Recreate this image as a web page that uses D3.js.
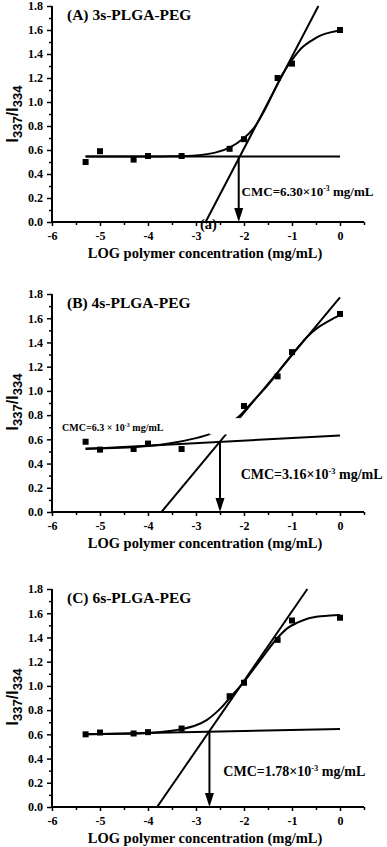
<!DOCTYPE html>
<html>
<head>
<meta charset="utf-8" />
<title>Pyrene I337/I334 vs log concentration</title>
<script src="https://d3js.org/d3.v7.min.js"></script>
<style>
    body { margin: 0; background: #fff; }
    svg text { font-family: 'Liberation Serif', 'Times New Roman', serif; font-weight: bold; fill: #000; }
</style>
</head>
<body>
<div id="chart"></div>
<script>
// log10 of polymer concentration (mg/mL)
var logConc = [-5.3, -5, -4.3, -4, -3.3, -2.3, -2, -1.3, -1, 0];

// measured I337/I334 ratios
var ratioA = [0.50, 0.59, 0.52, 0.55, 0.55, 0.61, 0.69, 1.20, 1.32, 1.60];
var ratioB = [0.58, 0.515, 0.52, 0.565, 0.52, null, 0.875, 1.12, 1.32, 1.635];
var ratioC = [0.60, 0.615, 0.607, 0.618, 0.648, 0.915, 1.026, 1.38, 1.54, 1.563];

// sigmoidal fit curves
var fitXA = [-5.3, -4.5, -3.5, -3.0, -2.6, -2.3, -2.0, -1.8, -1.6, -1.4, -1.2, -1.0, -0.8, -0.6, -0.4, -0.2, 0];
var fitYA = [0.545, 0.545, 0.548, 0.555, 0.578, 0.62, 0.70, 0.78, 0.91, 1.07, 1.23, 1.35, 1.45, 1.51, 1.555, 1.58, 1.595];
var fitXB = [-5.3, -4.6, -4.0, -3.5, -3.0, -2.7, -2.4, -2.1, -1.8, -1.5, -1.2, -1.0, -0.7, -0.47, -0.2, 0];
var fitYB = [0.524, 0.53, 0.545, 0.57, 0.61, 0.645, 0.70, 0.79, 0.92, 1.05, 1.20, 1.30, 1.44, 1.52, 1.585, 1.625];
var fitXC = [-5.3, -4.5, -4.0, -3.5, -3.3, -3.0, -2.77, -2.5, -2.3, -2.0, -1.66, -1.34, -1.1, -0.9, -0.68, -0.4, -0.2, 0];
var fitYC = [0.60, 0.605, 0.612, 0.63, 0.643, 0.675, 0.72, 0.81, 0.90, 1.034, 1.213, 1.379, 1.475, 1.52, 1.555, 1.575, 1.582, 1.585];

// tangent lines as [x0, y0, x1, y1]
var steepA = [-2.80, 0, -0.45, 1.80];
var flatA = [-5.3, 0.545, 0, 0.545];
var steepB = [-3.72, 0, 0, 1.773];
var flatB = [-5.3, 0.52, 0, 0.632];
var steepC = [-3.81, 0, -0.68, 1.80];
var flatC = [-5.3, 0.60, 0, 0.645];

// CMC (crossing point of the two lines)
var cmcX = [-2.11, -2.50, -2.72];
var cmcY = [0.545, 0.579, 0.62];
var cmcValue = ["6.30", "3.16", "1.78"];

var titles = ["(A) 3s-PLGA-PEG", "(B) 4s-PLGA-PEG", "(C) 6s-PLGA-PEG"];
var xTicks = [-6, -5, -4, -3, -2, -1, 0];
var yTicks = [0, 0.2, 0.4, 0.6, 0.8, 1.0, 1.2, 1.4, 1.6, 1.8];

var W = 387, H = 847;
var svg = d3.select("#chart").append("svg").attr("width", W).attr("height", H);

var x = d3.scaleLinear().domain([-6, 0.5]).range([52, 364]);

// panel layout: top / bottom pixel of the y axis, text placement
var panels = [
    { top: 6, bottom: 222, ratio: ratioA, fx: fitXA, fy: fitYA, steep: steepA, flat: flatA, cmcAt: [-2.05, 0.213], cmcSize: 13 },
    { top: 294, bottom: 512, ratio: ratioB, fx: fitXB, fy: fitYB, steep: steepB, flat: flatB, cmcAt: [-2.07, 0.27], cmcSize: 14 },
    { top: 589, bottom: 807, ratio: ratioC, fx: fitXC, fy: fitYC, steep: steepC, flat: flatC, cmcAt: [-2.43, 0.254], cmcSize: 14 }
];

// plain hyphen for negative ticks, like the original
var fmtX = function (d) { return d < 0 ? "-" + Math.abs(d) : "" + d; };

function cmcText(sel, value, size, spaced) {
    sel.style("font-size", size + "px");
    sel.append("tspan").text("CMC=" + value + (spaced ? " × " : "×") + "10");
    sel.append("tspan").attr("dy", -size * 0.4).style("font-size", (size * 0.6) + "px").text("-3");
    sel.append("tspan").attr("dy", size * 0.4).text(" mg/mL");
}

panels.forEach(function (p, i) {
    var y = d3.scaleLinear().domain([0, 1.8]).range([p.bottom, p.top]);
    var g = svg.append("g");

    if (i == 0) {
        // stray "(a)" label sitting on the axis
        g.append("text").attr("x", x(-2.74)).attr("y", p.bottom + 7)
            .attr("text-anchor", "middle").style("font-size", "14.5px").text("(a)");
    }

    // fit curve
    var curve = d3.line().x(function (d) { return x(d[0]); }).y(function (d) { return y(d[1]); })
        .curve(d3.curveCatmullRom);
    g.append("path").datum(d3.zip(p.fx, p.fy)).attr("d", curve)
        .attr("fill", "none").attr("stroke", "#000").attr("stroke-width", 2);

    // straight lines
    [p.steep, p.flat].forEach(function (l) {
        g.append("line").attr("x1", x(l[0])).attr("y1", y(l[1])).attr("x2", x(l[2])).attr("y2", y(l[3]))
            .attr("stroke", "#000").attr("stroke-width", 2);
    });

    if (i == 1) {
        // the original figure has a blank patch over the lines here
        g.append("rect").attr("x", x(-2.72)).attr("y", y(0.775))
            .attr("width", x(-2.0) - x(-2.72)).attr("height", y(0.64) - y(0.775)).attr("fill", "#fff");
        var small = g.append("text").attr("x", x(-5.79)).attr("y", y(0.667));
        cmcText(small, "6.3", 10, true);
    }

    // measured points
    g.selectAll("rect.pt").data(d3.zip(logConc, p.ratio).filter(function (d) { return d[1] != null; }))
        .enter().append("rect").attr("class", "pt")
        .attr("x", function (d) { return x(d[0]) - 3; }).attr("y", function (d) { return y(d[1]) - 3; })
        .attr("width", 6).attr("height", 6).attr("fill", "#000");

    // arrow down to the x axis
    var ax = x(cmcX[i]);
    g.append("line").attr("x1", ax).attr("y1", y(cmcY[i])).attr("x2", ax).attr("y2", p.bottom - 12)
        .attr("stroke", "#000").attr("stroke-width", 2);
    g.append("path").attr("d", "M" + (ax - 4.5) + "," + (p.bottom - 14) + "L" + (ax + 4.5) + "," + (p.bottom - 14) + "L" + ax + "," + p.bottom + "Z")
        .attr("fill", "#000");

    var lab = g.append("text").attr("x", x(p.cmcAt[0])).attr("y", y(p.cmcAt[1]));
    cmcText(lab, cmcValue[i], p.cmcSize, false);

    // axes
    var xAxis = g.append("g").attr("transform", "translate(0," + p.bottom + ")");
    xAxis.call(d3.axisBottom(x).tickValues(d3.range(-5.5, 0.6, 1)).tickSize(3).tickFormat(""));
    xAxis.call(function (a) {
        a.append("g").call(d3.axisBottom(x).tickValues(xTicks).tickSize(4).tickPadding(5).tickFormat(fmtX));
    });
    xAxis.selectAll("path.domain").attr("stroke-width", 2).attr("d", "M" + x(-6) + ",0H" + x(0.5));
    xAxis.selectAll("line").attr("stroke-width", 1.5);
    xAxis.selectAll("text").style("font-size", "12px").style("font-family", "'Liberation Serif', serif").style("font-weight", "bold");

    var yAxis = g.append("g").attr("transform", "translate(" + x(-6) + ",0)");
    yAxis.call(d3.axisLeft(y).tickValues(d3.range(0.1, 1.8, 0.2)).tickSize(3).tickFormat(""));
    yAxis.call(function (a) {
        a.append("g").call(d3.axisLeft(y).tickValues(yTicks).tickSize(5).tickPadding(4).tickFormat(d3.format(".1f")));
    });
    yAxis.selectAll("path.domain").attr("stroke-width", 2).attr("d", "M0," + p.bottom + "V" + p.top);
    yAxis.selectAll("line").attr("stroke-width", 1.5);
    yAxis.selectAll("text").style("font-size", "12px").style("font-family", "'Liberation Serif', serif").style("font-weight", "bold");

    // titles
    g.append("text").attr("x", x(-6) + 15).attr("y", p.top + 14).style("font-size", "15.5px").text(titles[i]);

    g.append("text").attr("x", 205).attr("y", p.bottom + 35.5).attr("text-anchor", "middle")
        .style("font-size", "14.5px").text("LOG polymer concentration (mg/mL)");

    var yl = g.append("text").attr("transform", "translate(18," + (p.top + 108) + ") rotate(-90)")
        .attr("text-anchor", "middle")
        .style("font-family", "'Liberation Sans', Arial, sans-serif").style("font-size", "16px");
    yl.append("tspan").text("I");
    yl.append("tspan").attr("dy", 4).style("font-size", "13px").text("337");
    yl.append("tspan").attr("dy", -4).text("/I");
    yl.append("tspan").attr("dy", 4).style("font-size", "13px").text("334");
});
</script>
</body>
</html>
